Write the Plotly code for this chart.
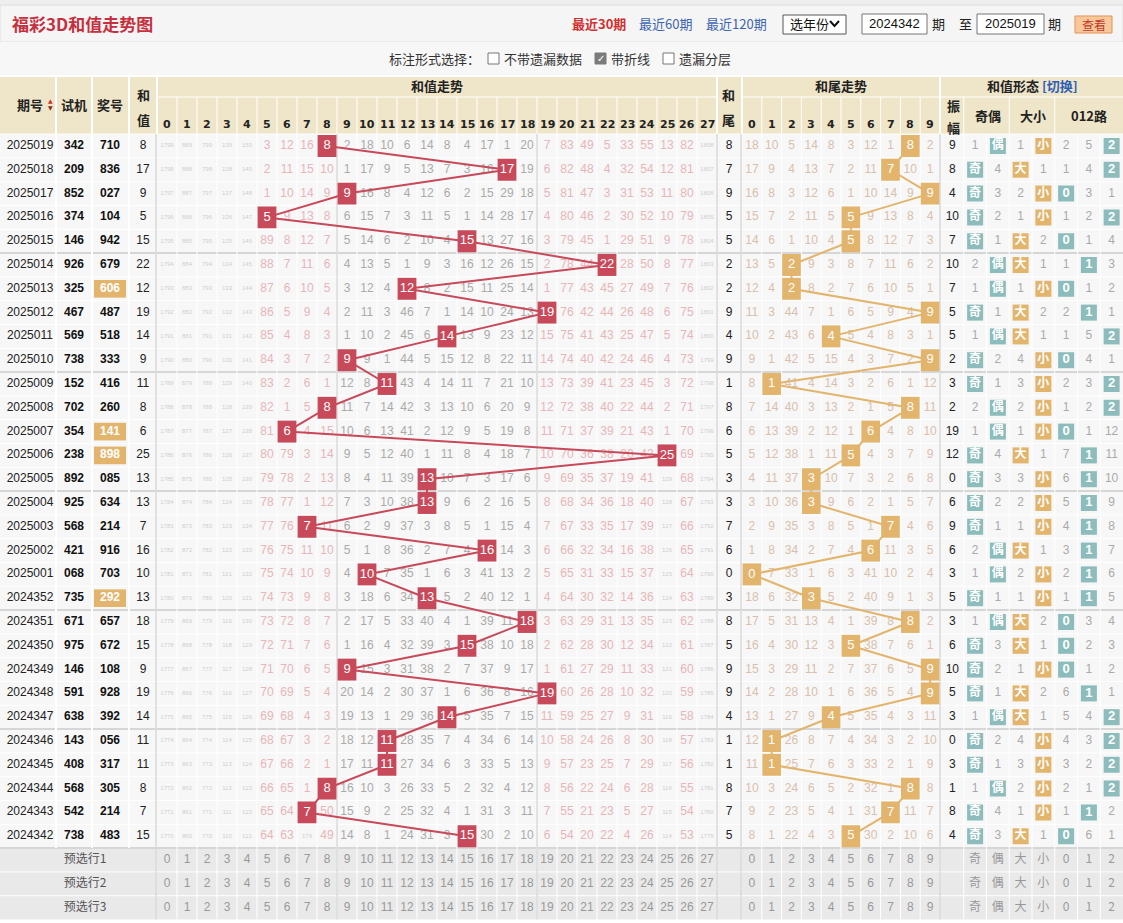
import plotly.graph_objects as go

W, H = 1123, 923

# ---------------- data (newest period first) ----------------
periods = ["2025019", "2025018", "2025017", "2025016", "2025015", "2025014", "2025013", "2025012",
           "2025011", "2025010", "2025009", "2025008", "2025007", "2025006", "2025005", "2025004",
           "2025003", "2025002", "2025001", "2024352", "2024351", "2024350", "2024349", "2024348",
           "2024347", "2024346", "2024345", "2024344", "2024343", "2024342"]
trial_nums = ["342", "209", "852", "374", "146", "926", "325", "467", "569", "738",
              "152", "702", "354", "238", "892", "925", "568", "421", "068", "735",
              "671", "975", "146", "591", "638", "143", "408", "568", "542", "738"]
draw_nums = ["710", "836", "027", "104", "942", "679", "606", "487", "518", "333",
             "416", "260", "141", "898", "085", "634", "214", "916", "703", "292",
             "657", "672", "108", "928", "392", "056", "317", "305", "214", "483"]
pair_periods = ["2025013", "2025007", "2025006", "2024352"]   # 组三, shown highlighted
sums = [8, 17, 9, 5, 15, 22, 12, 19, 14, 9, 11, 8, 6, 25, 13,
        13, 7, 16, 10, 13, 18, 15, 9, 19, 14, 11, 11, 8, 7, 15]
tails = [8, 7, 9, 5, 5, 2, 2, 9, 4, 9, 1, 8, 6, 5, 3,
         3, 7, 6, 0, 3, 8, 5, 9, 9, 4, 1, 1, 8, 7, 5]
amplitude = [9, 8, 4, 10, 7, 10, 7, 5, 5, 2, 3, 2, 19, 12, 0,
             6, 9, 6, 3, 5, 3, 6, 10, 5, 3, 0, 3, 1, 8, 4]
oe_hit = list("偶奇奇奇奇偶偶奇偶奇奇偶偶奇奇奇奇偶偶奇偶奇奇奇偶奇奇偶奇奇")
oe_miss = [1, 4, 3, 2, 1, 2, 1, 1, 1, 2, 1, 2, 1, 4, 3, 2, 1, 2, 1, 1, 1, 3, 2, 1, 1, 2, 1, 1, 4, 3]
bs_hit = list("小大小小大大小大大小小小小大小小小大小小大大小大大小小小小大")
bs_miss = [1, 1, 2, 1, 2, 1, 1, 2, 1, 4, 3, 2, 1, 1, 3, 2, 1, 1, 2, 1, 2, 1, 1, 2, 1, 4, 3, 2, 1, 1]
road_rows = ["2 5 -", "1 4 -", "- 3 1", "1 2 -", "- 1 4", "1 - 3", "- 1 2", "2 - 1", "1 5 -", "- 4 1",
             "2 3 -", "1 2 -", "- 1 12", "7 - 11", "6 - 10", "5 - 9", "4 - 8", "3 - 7", "2 - 6", "1 - 5",
             "- 3 4", "- 2 3", "- 1 2", "6 - 1", "5 4 -", "4 3 -", "3 2 -", "2 1 -", "1 - 2", "- 6 1"]

# omission values per row, sum 0..27 ('-' = hit)
sum_miss_rows = [
    "1799 889 799 139 150 3 12 16 - 2 18 10 6 14 8 4 17 1 20 7 83 49 5 33 55 13 82 1808",
    "1798 888 798 138 149 2 11 15 10 1 17 9 5 13 7 3 16 - 19 6 82 48 4 32 54 12 81 1807",
    "1797 887 797 137 148 1 10 14 9 - 16 8 4 12 6 2 15 29 18 5 81 47 3 31 53 11 80 1806",
    "1796 886 796 136 147 - 9 13 8 6 15 7 3 11 5 1 14 28 17 4 80 46 2 30 52 10 79 1805",
    "1795 885 795 135 146 89 8 12 7 5 14 6 2 10 4 - 13 27 16 3 79 45 1 29 51 9 78 1804",
    "1794 884 794 134 145 88 7 11 6 4 13 5 1 9 3 16 12 26 15 2 78 44 - 28 50 8 77 1803",
    "1793 883 793 133 144 87 6 10 5 3 12 4 - 8 2 15 11 25 14 1 77 43 45 27 49 7 76 1802",
    "1792 882 792 132 143 86 5 9 4 2 11 3 46 7 1 14 10 24 13 - 76 42 44 26 48 6 75 1801",
    "1791 881 791 131 142 85 4 8 3 1 10 2 45 6 - 13 9 23 12 15 75 41 43 25 47 5 74 1800",
    "1790 880 790 130 141 84 3 7 2 - 9 1 44 5 15 12 8 22 11 14 74 40 42 24 46 4 73 1799",
    "1789 879 789 129 140 83 2 6 1 12 8 - 43 4 14 11 7 21 10 13 73 39 41 23 45 3 72 1798",
    "1788 878 788 128 139 82 1 5 - 11 7 14 42 3 13 10 6 20 9 12 72 38 40 22 44 2 71 1797",
    "1787 877 787 127 138 81 - 4 15 10 6 13 41 2 12 9 5 19 8 11 71 37 39 21 43 1 70 1796",
    "1786 876 786 126 137 80 79 3 14 9 5 12 40 1 11 8 4 18 7 10 70 36 38 20 42 - 69 1795",
    "1785 875 785 125 136 79 78 2 13 8 4 11 39 - 10 7 3 17 6 9 69 35 37 19 41 129 68 1794",
    "1784 874 784 124 135 78 77 1 12 7 3 10 38 - 9 6 2 16 5 8 68 34 36 18 40 128 67 1793",
    "1783 873 783 123 134 77 76 - 11 6 2 9 37 3 8 5 1 15 4 7 67 33 35 17 39 127 66 1792",
    "1782 872 782 122 133 76 75 11 10 5 1 8 36 2 7 4 - 14 3 6 66 32 34 16 38 126 65 1791",
    "1781 871 781 121 132 75 74 10 9 4 - 7 35 1 6 3 41 13 2 5 65 31 33 15 37 125 64 1790",
    "1780 870 780 120 131 74 73 9 8 3 18 6 34 - 5 2 40 12 1 4 64 30 32 14 36 124 63 1789",
    "1779 869 779 119 130 73 72 8 7 2 17 5 33 40 4 1 39 11 - 3 63 29 31 13 35 123 62 1788",
    "1778 868 778 118 129 72 71 7 6 1 16 4 32 39 3 - 38 10 18 2 62 28 30 12 34 122 61 1787",
    "1777 867 777 117 128 71 70 6 5 - 15 3 31 38 2 7 37 9 17 1 61 27 29 11 33 121 60 1786",
    "1776 866 776 116 127 70 69 5 4 20 14 2 30 37 1 6 36 8 16 - 60 26 28 10 32 120 59 1785",
    "1775 865 775 115 126 69 68 4 3 19 13 1 29 36 - 5 35 7 15 11 59 25 27 9 31 119 58 1784",
    "1774 864 774 114 125 68 67 3 2 18 12 - 28 35 7 4 34 6 14 10 58 24 26 8 30 118 57 1783",
    "1773 863 773 113 124 67 66 2 1 17 11 - 27 34 6 3 33 5 13 9 57 23 25 7 29 117 56 1782",
    "1772 862 772 112 123 66 65 1 - 16 10 3 26 33 5 2 32 4 12 8 56 22 24 6 28 116 55 1781",
    "1771 861 771 111 122 65 64 - 50 15 9 2 25 32 4 1 31 3 11 7 55 21 23 5 27 115 54 1780",
    "1770 860 770 110 121 64 63 179 49 14 8 1 24 31 3 - 30 2 10 6 54 20 22 4 26 114 53 1779",
]
# omission values per row, tail 0..9
tail_miss_rows = [
    "18 10 5 14 8 3 12 1 - 2", "17 9 4 13 7 2 11 - 10 1", "16 8 3 12 6 1 10 14 9 -",
    "15 7 2 11 5 - 9 13 8 4", "14 6 1 10 4 - 8 12 7 3", "13 5 - 9 3 8 7 11 6 2",
    "12 4 - 8 2 7 6 10 5 1", "11 3 44 7 1 6 5 9 4 -", "10 2 43 6 - 5 4 8 3 1",
    "9 1 42 5 15 4 3 7 2 -", "8 - 41 4 14 3 2 6 1 12", "7 14 40 3 13 2 1 5 - 11",
    "6 13 39 2 12 1 - 4 8 10", "5 12 38 1 11 - 4 3 7 9", "4 11 37 - 10 7 3 2 6 8",
    "3 10 36 - 9 6 2 1 5 7", "2 9 35 3 8 5 1 - 4 6", "1 8 34 2 7 4 - 11 3 5",
    "- 7 33 1 6 3 41 10 2 4", "18 6 32 - 5 2 40 9 1 3", "17 5 31 13 4 1 39 8 - 2",
    "16 4 30 12 3 - 38 7 6 1", "15 3 29 11 2 7 37 6 5 -", "14 2 28 10 1 6 36 5 4 -",
    "13 1 27 9 - 5 35 4 3 11", "12 - 26 8 7 4 34 3 2 10", "11 - 25 7 6 3 33 2 1 9",
    "10 3 24 6 5 2 32 1 - 8", "9 2 23 5 4 1 31 - 11 7", "8 1 22 4 3 - 30 2 10 6",
]

sum_cols = list(range(28))
tail_cols = list(range(10))
form_cols = ["振幅", "奇", "偶", "大", "小", "0", "1", "2"]
preselect_cols = ["奇", "偶", "大", "小", "0", "1", "2"]
preselect_labels = ["预选行1", "预选行2", "预选行3"]

# ---------------- page geometry (px) & styles ----------------
ROW0, ROW_H = 134.1, 23.8
TREND_L, TREND_R = 157, 717
TAIL_L, TAIL_R = 742, 940
FORM_L = 941
X_PERIOD, X_TRIAL, X_DRAW, X_SUM, X_TAIL = 30, 74, 110, 143, 729

RED, TAN, TEAL, BEIGE = "#c8495a", "#e2b46c", "#8cbcbc", "#efe5c8"
PINK_TXT, GREY_TXT, TAIL_TXT, TINY_TXT = "#e6b6b9", "#aaaaaa", "#d9bfad", "#cfcfcf"
NUM = "Liberation Sans, Arial, sans-serif"
CJK = "Noto Sans CJK SC, sans-serif"

rows = list(range(1, len(periods) + 1))


def fx(x):
    return x / W


def fy(y):
    return 1 - y / H


def ry(k):
    return ROW0 + k * ROW_H


shapes, annots = [], []


def box(x0, y0, x1, y1, fill, line=None, lw=1):
    shapes.append(dict(type="rect", xref="paper", yref="paper", layer="below",
                       x0=fx(x0), x1=fx(x1), y0=fy(y1), y1=fy(y0), fillcolor=fill,
                       line=dict(color=line if line else fill, width=lw if line else 0)))


def seg(x0, y0, x1, y1, color, w=1):
    shapes.append(dict(type="line", xref="paper", yref="paper", layer="below",
                       x0=fx(x0), x1=fx(x1), y0=fy(y0), y1=fy(y1), line=dict(color=color, width=w)))


def label(x, y, text, size=13, color="#333", bold=False, anchor="center", family=CJK):
    annots.append(dict(xref="paper", yref="paper", x=fx(x), y=fy(y), showarrow=False,
                       text=f"<b>{text}</b>" if bold else text, xanchor=anchor, yanchor="middle",
                       font=dict(size=size, color=color, family=family)))


# ---------------- page background / table grid ----------------
box(0, 0, W, 5, "#eeeeee")
box(0, 5, W, 42, "#f5f5f5", "#dedede")
box(0, 42, W, 76, "#f7f7f7")
box(0, 76, W, ROW0, BEIGE)
box(0, ROW0, W, ry(30), "#f7f7f7")
box(0, ry(30), W, ry(33), "#e9e9e9")

for k in range(1, 33):
    if k % 5 == 0 and k <= 30:
        seg(0, ry(k), W, ry(k), "#d6d6d6", 2)
    else:
        seg(0, ry(k), W, ry(k), "white", 1)
seg(0, 76, W, 76, "white", 2)
seg(0, ROW0, W, ROW0, "white", 1)
for a, b in ((TREND_L, TREND_R), (TAIL_L, TAIL_R), (FORM_L, W)):
    seg(a, 97, b, 97, "white", 1)

for x in (56, 92, 129):
    seg(x, 76, x, ry(30), "white", 2)
for k in range(1, 28):
    seg(TREND_L + 20 * k, 97, TREND_L + 20 * k, ry(33), "white", 1)
for k in range(1, 10):
    x = TAIL_L + (TAIL_R - TAIL_L) / 10 * k
    seg(x, 97, x, ry(33), "white", 1)
for k in range(1, 8):
    x = FORM_L + (W - FORM_L) / 8 * k
    seg(x, 97 if k in (1, 3, 5) else ROW0, x, ry(33), "white", 1)
for x in (TREND_L, TREND_R, TAIL_L, TAIL_R):
    seg(x, 76, x, ROW0, "white", 2)
for x in (TREND_L - 1, TREND_L + 180, TREND_L + 380, TREND_R, TAIL_L - 1, TAIL_R):
    seg(x, ROW0, x, ry(33), "#dadada", 1.5)

# ---------------- top bar ----------------
label(10, 23, "福彩3D和值走势图", 17, "#c5303f", True, "left")
label(570, 23, "最近30期", 13, "#d02f2f", True, "left")
label(637, 23, "最近60期", 13, "#3a64b0", False, "left")
label(704, 23, "最近120期", 13, "#3a64b0", False, "left")
box(783, 15, 846, 34, "white", "#555555")
label(788, 24, "选年份", 13, "#111", False, "left")
shapes.append(dict(type="path", xref="paper", yref="paper",
                   path=f"M {fx(830)},{fy(21)} L {fx(834.5)},{fy(26)} L {fx(839)},{fy(21)}",
                   line=dict(color="#111", width=2)))
box(862, 14, 927, 34, "white", "#777777")
label(894.5, 24, "2024342", 13, "#111", False, "center", NUM)
label(938, 24, "期", 13, "#222")
label(965, 24, "至", 13, "#222")
box(977, 14, 1044, 34, "white", "#777777")
label(1010.5, 24, "2025019", 13, "#111", False, "center", NUM)
label(1054, 24, "期", 13, "#222")
box(1075, 16, 1112, 33, "#f9c89a", "#e39354")
label(1093.5, 24.5, "查看", 12, "#c0392b")

label(387, 59, "标注形式选择：", 13, "#333", False, "left")
box(488, 53, 499, 64, "white", "#777777")
label(502, 59, "不带遗漏数据", 13, "#333", False, "left")
box(595, 53, 606, 64, "#7b7b7b", "#7b7b7b")
label(600.5, 58.5, "✓", 10, "white", True, "center", "DejaVu Sans")
label(609, 59, "带折线", 13, "#333", False, "left")
box(663, 53, 674, 64, "white", "#777777")
label(677, 59, "遗漏分层", 13, "#333", False, "left")

# ---------------- table header ----------------
label(30, 105, "期号", 13, "#222", True)
label(50, 101, "▲", 6, "#d03030", False, "center", "DejaVu Sans")
label(50, 108, "▼", 6, "#8a2a2a", False, "center", "DejaVu Sans")
label(X_TRIAL, 105, "试机", 13, "#222", True)
label(X_DRAW, 105, "奖号", 13, "#222", True)
label(X_SUM, 94, "和", 13, "#222", True)
label(X_SUM, 120, "值", 13, "#222", True)
label((TREND_L + TREND_R) / 2, 86, "和值走势", 13, "#222", True)
label(X_TAIL, 94, "和", 13, "#222", True)
label(X_TAIL, 120, "尾", 13, "#222", True)
label((TAIL_L + TAIL_R) / 2, 86, "和尾走势", 13, "#222", True)
label(1032, 86, "<b>和值形态 <span style='color:#2d5fb4'>[切换]</span></b>", 13, "#222")
label(953, 106, "振", 13, "#222", True)
label(953, 127, "幅", 13, "#222", True)
label(988, 116, "奇偶", 13, "#222", True)
label(1033, 116, "大小", 13, "#222", True)
label(1089, 116, "012路", 13, "#222", True)
for c in sum_cols:
    annots.append(dict(xref="x", yref="paper", x=c, y=fy(116), text=f"<b>{c}</b>", showarrow=False,
                       font=dict(size=11, color="#222", family="DejaVu Sans")))
for c in tail_cols:
    annots.append(dict(xref="x2", yref="paper", x=c, y=fy(116), text=f"<b>{c}</b>", showarrow=False,
                       font=dict(size=11, color="#222", family="DejaVu Sans")))


# ---------------- traces ----------------
def text_trace(x, y, text, axis, size=12, color="#333", family=NUM):
    return go.Scatter(x=x, y=y, text=text, mode="text", xaxis=axis, yaxis="y",
                      textposition="middle center", hoverinfo="skip",
                      textfont=dict(size=size, color=color, family=family))


traces = []

# sum trend omissions
buckets = {"pink": ([], [], []), "grey": ([], [], []), "tiny": ([], [], [])}
for r, line in zip(rows, sum_miss_rows):
    for c, tok in enumerate(line.split()):
        if tok == "-":
            continue
        key = "tiny" if int(tok) >= 100 else ("grey" if 9 <= c <= 18 else "pink")
        buckets[key][0].append(c)
        buckets[key][1].append(r)
        buckets[key][2].append(tok)
traces.append(text_trace(*buckets["pink"], "x", 12, PINK_TXT))
traces.append(text_trace(*buckets["grey"], "x", 12, GREY_TXT))
traces.append(text_trace(*buckets["tiny"], "x", 6, TINY_TXT))

# tail trend omissions
tx, ty, tt = [], [], []
for r, line in zip(rows, tail_miss_rows):
    for c, tok in enumerate(line.split()):
        if tok != "-":
            tx.append(c)
            ty.append(r)
            tt.append(tok)
traces.append(text_trace(tx, ty, tt, "x2", 12, TAIL_TXT))

# hit cells
for r, s in zip(rows, sums):
    shapes.append(dict(type="rect", xref="x", yref="y", layer="below", x0=s - 0.47, x1=s + 0.47,
                       y0=r - 0.46, y1=r + 0.46, fillcolor=RED, line=dict(width=0)))
for r, t in zip(rows, tails):
    shapes.append(dict(type="rect", xref="x2", yref="y", layer="below", x0=t - 0.47, x1=t + 0.47,
                       y0=r - 0.46, y1=r + 0.46, fillcolor=TAN, line=dict(width=0)))

traces.append(go.Scatter(x=sums, y=rows, mode="lines", xaxis="x", yaxis="y", hoverinfo="skip",
                         line=dict(color=RED, width=2)))
traces.append(text_trace(sums, rows, [str(s) for s in sums], "x", 13, "white"))
traces.append(go.Scatter(x=tails, y=rows, mode="lines", xaxis="x2", yaxis="y", hoverinfo="skip",
                         line=dict(color=TAN, width=2)))
traces.append(text_trace(tails, rows, [str(t) for t in tails], "x2", 13, "white"))

# left columns
traces.append(text_trace([X_PERIOD] * len(rows), rows, periods, "x3", 12, "#222"))
traces.append(text_trace([X_TRIAL] * len(rows), rows, [f"<b>{v}</b>" for v in trial_nums], "x3", 12, "#111"))
pair_r = [r for r, p in zip(rows, periods) if p in pair_periods]
for r in pair_r:
    shapes.append(dict(type="rect", xref="x3", yref="y", layer="below", x0=X_DRAW - 16, x1=X_DRAW + 16,
                       y0=r - 0.37, y1=r + 0.37, fillcolor=TAN, line=dict(width=0)))
traces.append(text_trace([X_DRAW] * len(rows), rows,
                         [f"<b>{d}</b>" if p not in pair_periods else "" for d, p in zip(draw_nums, periods)],
                         "x3", 12, "#111"))
traces.append(text_trace([X_DRAW] * len(pair_r), pair_r,
                         [f"<b>{d}</b>" for d, p in zip(draw_nums, periods) if p in pair_periods],
                         "x3", 12, "white"))
traces.append(text_trace([X_SUM] * len(rows), rows, [str(s) for s in sums], "x3", 12, "#222"))
traces.append(text_trace([X_TAIL] * len(rows), rows, [str(t) for t in tails], "x3", 12, "#222"))

# form columns
traces.append(text_trace(["振幅"] * len(rows), rows, [str(a) for a in amplitude], "x4", 12, "#222"))


def hit_trace(cats, color):
    return go.Scatter(x=cats, y=rows, mode="markers+text", xaxis="x4", yaxis="y", hoverinfo="skip",
                      marker=dict(symbol="square", size=16, color=color, line=dict(width=0)),
                      text=[f"<b>{c}</b>" for c in cats], textposition="middle center",
                      textfont=dict(size=12, color="white", family=CJK))


traces.append(hit_trace(oe_hit, TEAL))
traces.append(text_trace(["偶" if h == "奇" else "奇" for h in oe_hit], rows, [str(v) for v in oe_miss],
                         "x4", 12, GREY_TXT))
traces.append(hit_trace(bs_hit, TAN))
traces.append(text_trace(["小" if h == "大" else "大" for h in bs_hit], rows, [str(v) for v in bs_miss],
                         "x4", 12, GREY_TXT))
rh, rhy, rmx, rmy, rmt = [], [], [], [], []
for r, line in zip(rows, road_rows):
    for c, tok in zip(["0", "1", "2"], line.split()):
        if tok == "-":
            rh.append(c)
            rhy.append(r)
        else:
            rmx.append(c)
            rmy.append(r)
            rmt.append(tok)
traces.append(go.Scatter(x=rh, y=rhy, mode="markers+text", xaxis="x4", yaxis="y", hoverinfo="skip",
                         marker=dict(symbol="square", size=16, color=TEAL, line=dict(width=0)),
                         text=[f"<b>{c}</b>" for c in rh], textposition="middle center",
                         textfont=dict(size=13, color="white", family=NUM)))
traces.append(text_trace(rmx, rmy, rmt, "x4", 12, GREY_TXT))

# preselect rows
for i, name in enumerate(preselect_labels):
    yy = len(rows) + 1 + i
    traces.append(text_trace([85], [yy], [name], "x3", 12, "#555", CJK))
    traces.append(text_trace(sum_cols, [yy] * len(sum_cols), [str(c) for c in sum_cols], "x", 12, "#999"))
    traces.append(text_trace(tail_cols, [yy] * len(tail_cols), [str(c) for c in tail_cols], "x2", 12, "#999"))
    traces.append(text_trace(preselect_cols, [yy] * len(preselect_cols), preselect_cols, "x4", 12, "#999", CJK))

fig = go.Figure(traces)
fig.update_layout(
    width=W, height=H, margin=dict(l=0, r=0, t=0, b=0),
    paper_bgcolor="white", plot_bgcolor="rgba(0,0,0,0)", showlegend=False,
    xaxis=dict(domain=[fx(TREND_L), fx(TREND_R)], range=[-0.5, 27.5], visible=False, anchor="y"),
    xaxis2=dict(domain=[fx(TAIL_L), fx(TAIL_R)], range=[-0.5, 9.5], visible=False, anchor="y"),
    xaxis3=dict(domain=[0, 1], range=[0, W], visible=False, anchor="y"),
    xaxis4=dict(domain=[fx(FORM_L), 1], type="category", categoryorder="array", categoryarray=form_cols,
                range=[-0.5, 7.5], visible=False, anchor="y"),
    yaxis=dict(domain=[fy(ry(33)), fy(ROW0)], range=[33.5, 0.5], visible=False),
    shapes=shapes, annotations=annots,
)
# the page's default 8px body margin would push the 1123px figure off the window
fig.write_html("out.html", config={"displayModeBar": False},
               post_script="document.body.style.margin='0';document.body.style.overflow='hidden';")
